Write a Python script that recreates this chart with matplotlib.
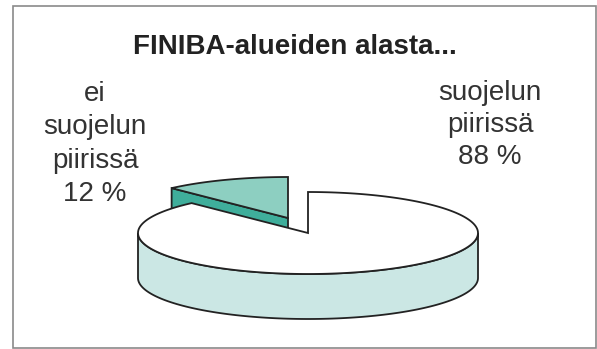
import matplotlib
matplotlib.use("Agg")
import matplotlib.pyplot as plt
import numpy as np
from matplotlib.patches import Polygon, Rectangle

# --- Dados ---
rotulos = ["ei\nsuojelun\npiirissä\n12 %", "suojelun\npiirissä\n88 %"]
valores = [12, 88]
titulo = "FINIBA-alueiden alasta..."

# --- Geometria da pizza 3D (em pixels) ---
CX, CY = 308, 233  # centro da face superior
A, B = 170, 41  # semi-eixos da elipse
PROF = 45  # espessura
DESLOC = (-20, -15)  # deslocamento da fatia explodida

cor_topo = ["#8dcfc1", "#ffffff"]
cor_corte = "#3fae9b"
cor_lado = "#cbe7e4"
cor_linha = "#222222"

plt.rcParams["font.family"] = ["Liberation Sans", "DejaVu Sans"]

fig = plt.figure(figsize=(5.97, 3.49), dpi=100)
ax = fig.add_axes([0, 0, 1, 1])
ax.set_xlim(0, 597)
ax.set_ylim(349, 0)
ax.axis("off")

# moldura
ax.add_patch(Rectangle((13, 6), 583, 342, fill=False, ec="#8a8a8a", lw=1.2))


def ponto(ang, cx, cy, dz=0):
    r = np.radians(ang)
    return cx + A * np.cos(r), cy - B * np.sin(r) + dz


# ângulos: fatia pequena começa às 12h e vai anti-horário
frac = np.array(valores) / sum(valores)
a0 = 90
a1 = 90 + 360 * frac[0]

# --- fatia pequena (explodida) ---
ex, ey = CX + DESLOC[0], CY + DESLOC[1]
# face de corte ao longo de a1
px, py = ponto(a1, ex, ey)
corte = [(ex, ey), (px, py), (px, py + PROF), (ex, ey + PROF)]
ax.add_patch(Polygon(corte, closed=True, fc=cor_corte, ec=cor_linha, lw=1.3))
angs = np.linspace(a0, a1, 40)
topo = [(ex, ey)] + [ponto(t, ex, ey) for t in angs]
ax.add_patch(Polygon(topo, closed=True, fc=cor_topo[0], ec=cor_linha, lw=1.3))

# --- fatia grande ---
angs_lado = np.linspace(180, 360, 120)
sup = [ponto(t, CX, CY) for t in angs_lado]
inf = [ponto(t, CX, CY, PROF) for t in angs_lado[::-1]]
ax.add_patch(Polygon(sup + inf, closed=True, fc=cor_lado, ec=cor_linha, lw=1.3))
angs_g = np.linspace(a1, 360 + 90, 200)
topo_g = [(CX, CY)] + [ponto(t, CX, CY) for t in angs_g]
ax.add_patch(Polygon(topo_g, closed=True, fc=cor_topo[1], ec=cor_linha, lw=1.3))

# --- textos ---
ax.text(133, 47, titulo, ha="left", va="center", fontsize=20, fontweight="bold",
        color="#222222")
ax.text(95, 144, rotulos[0], ha="center", va="center", fontsize=20,
        color="#333333", linespacing=1.38)
ax.text(490, 125, rotulos[1], ha="center", va="center", fontsize=20,
        color="#333333", linespacing=1.29)

fig.savefig("out.png", dpi=100)
